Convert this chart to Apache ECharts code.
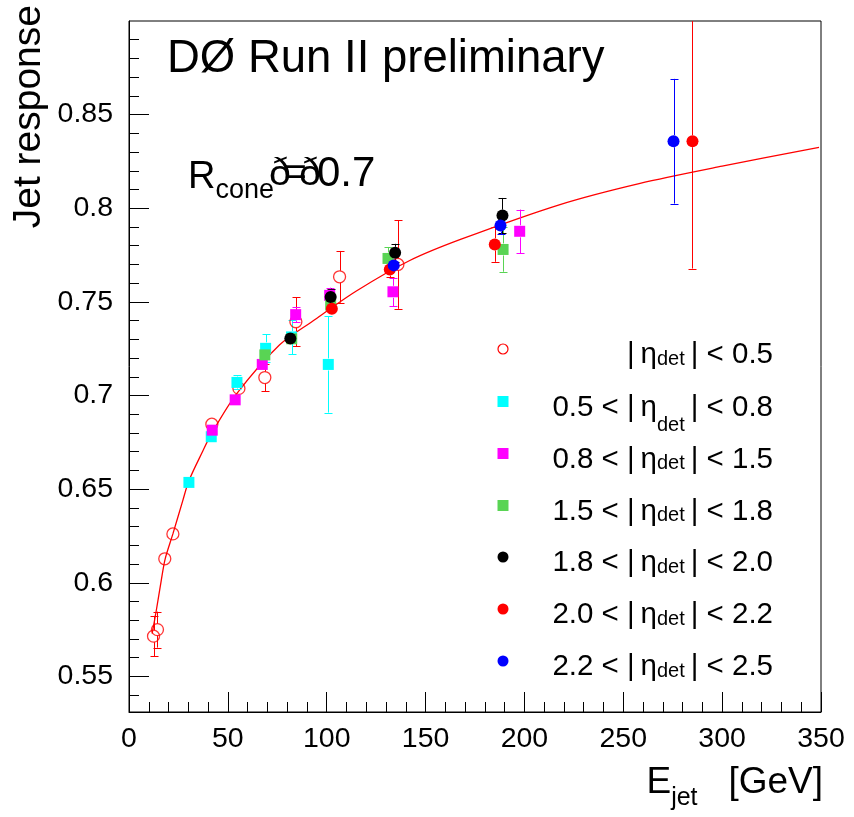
<!DOCTYPE html>
<html><head><meta charset="utf-8">
<script src="https://cdn.jsdelivr.net/npm/echarts@6/dist/echarts.min.js"></script>
<style>html,body{margin:0;padding:0;background:#fff}#c{width:854px;height:817px}</style>
</head><body><div id="c"></div>
<script>
const FONT = "'Liberation Sans', Arial, Helvetica, sans-serif";

// ---- tick labels ----
const xTicks = [0, 50, 100, 150, 200, 250, 300, 350];
const yMajor = [0.55, 0.6, 0.65, 0.7, 0.75, 0.8, 0.85];
const yMinor = [0.54, 0.56, 0.57, 0.58, 0.59, 0.61, 0.62, 0.63, 0.64, 0.66, 0.67, 0.68, 0.69,
  0.71, 0.72, 0.73, 0.74, 0.76, 0.77, 0.78, 0.79, 0.81, 0.82, 0.83, 0.84, 0.86, 0.87, 0.88, 0.89];

// ---- legend labels ----
const binLo = ['', '0.5', '0.8', '1.5', '1.8', '2.0', '2.2'];
const binHi = ['0.5', '0.8', '1.5', '1.8', '2.0', '2.2', '2.5'];

// ---- series: E_jet [GeV], response, error ----
const eta00E = [12.4, 14.4, 18.1, 22.2, 41.9, 55.6, 68.7, 84.4, 106.5, 136.0];
const eta00R = [0.5715, 0.5750, 0.6128, 0.6261, 0.6847, 0.7038, 0.7096, 0.7394, 0.7634, 0.7700];
const eta00Err = [0.0108, 0.0096, 0.002, 0.002, 0.002, 0.003, 0.0072, 0.0130, 0.0138, 0.0237];

const eta05E = [30.3, 41.6, 54.6, 69.1, 82.2, 100.8];
const eta05R = [0.6536, 0.6780, 0.7070, 0.7252, 0.7313, 0.7166];
const eta05Err = [0.002, 0.002, 0.0037, 0.0075, 0.0092, 0.0257];

const eta08E = [42.1, 53.7, 67.4, 84.3, 101.5, 133.5, 197.6];
const eta08R = [0.6815, 0.6977, 0.7166, 0.7432, 0.7535, 0.7554, 0.7877];
const eta08Err = [0.002, 0.002, 0.003, 0.004, 0.0041, 0.0076, 0.0116];

const eta15E = [68.7, 82.3, 102.0, 131.0, 189.2];
const eta15R = [0.7217, 0.7303, 0.7483, 0.7732, 0.7780];
const eta15Err = [0.003, 0.003, 0.003, 0.006, 0.0119];

const eta18E = [81.6, 102.0, 134.6, 188.9];
const eta18R = [0.7304, 0.7526, 0.7762, 0.7961];
const eta18Err = [0.002, 0.0045, 0.0048, 0.0094];

const eta20E = [102.6, 131.9, 185.0, 285.0];
const eta20R = [0.7464, 0.7673, 0.7807, 0.8358];
const eta20Err = [0.003, 0.004, 0.0093, 0.068];

const eta22E = [133.9, 187.9, 275.4];
const eta22R = [0.7695, 0.7908, 0.8358];
const eta22Err = [0.003, 0.0045, 0.0333];

// ---- fit curve ----
const fitE = [11.7, 13.8, 16.3, 18.3, 22.2, 27.2, 30.3, 37.4, 41.6, 54.3, 76.2, 93, 115, 142, 168, 218, 258, 300, 349];
const fitR = [0.5728, 0.5852, 0.6012, 0.6128, 0.6261, 0.6439, 0.6545, 0.6705, 0.6794, 0.7007, 0.7271, 0.7398, 0.7558, 0.7721, 0.7835, 0.8020, 0.8132, 0.8225, 0.8325];

const groups = [
  {E: eta00E, R: eta00R, Err: eta00Err, color: '#ff0000', symbol: 'circle', open: true},
  {E: eta05E, R: eta05R, Err: eta05Err, color: '#00ffff', symbol: 'rect'},
  {E: eta08E, R: eta08R, Err: eta08Err, color: '#ff00ff', symbol: 'rect'},
  {E: eta15E, R: eta15R, Err: eta15Err, color: '#59d454', symbol: 'rect'},
  {E: eta18E, R: eta18R, Err: eta18Err, color: '#000000', symbol: 'circle'},
  {E: eta20E, R: eta20R, Err: eta20Err, color: '#ff0000', symbol: 'circle'},
  {E: eta22E, R: eta22R, Err: eta22Err, color: '#0000ff', symbol: 'circle'}
];

const MS = 12; // marker size
function errRender(color) {
  return function (params, api) {
    const x = api.value(0), y = api.value(1), e = api.value(2);
    const c = api.coord([x, y]);
    const t = api.coord([x, y + e]);
    const b = api.coord([x, y - e]);
    const r = MS / 2;
    const cx = Math.round(c[0]) + 0.5;
    const st = {stroke: color, lineWidth: 1};
    const ch = [];
    const cap = 4;
    if (c[1] - t[1] > r) {
      ch.push({type: 'line', shape: {x1: cx, y1: c[1] - r, x2: cx, y2: t[1]}, style: st});
      ch.push({type: 'line', shape: {x1: cx - cap, y1: Math.round(t[1]) + 0.5, x2: cx + cap, y2: Math.round(t[1]) + 0.5}, style: st});
    }
    if (b[1] - c[1] > r) {
      ch.push({type: 'line', shape: {x1: cx, y1: c[1] + r, x2: cx, y2: b[1]}, style: st});
      ch.push({type: 'line', shape: {x1: cx - cap, y1: Math.round(b[1]) + 0.5, x2: cx + cap, y2: Math.round(b[1]) + 0.5}, style: st});
    }
    return {type: 'group', children: ch};
  };
}

const series = [{
  type: 'line', name: 'fit', data: fitE.map((e, i) => [e, fitR[i]]),
  smooth: 0.3, showSymbol: false, symbol: 'none', silent: true,
  lineStyle: {color: '#ff0000', width: 1.3}, z: 1
}];
groups.forEach((g, gi) => {
  series.push({
    type: 'custom', name: 'err' + gi, clip: true, silent: true,
    renderItem: errRender(g.color),
    data: g.E.map((e, i) => [e, g.R[i], g.Err[i]]), z: 2
  });
  series.push({
    type: 'scatter', name: 'bin' + gi, symbol: g.symbol, symbolSize: g.symbol === 'rect' ? 11 : MS,
    data: g.E.map((e, i) => [e, g.R[i]]), silent: true, z: 2,
    itemStyle: g.open ? {color: 'rgba(0,0,0,0)', borderColor: g.color, borderWidth: 1.3}
                      : {color: g.color, borderWidth: 0, opacity: 1}
  });
});

// legend (custom, ROOT style)
const legendY = [349, 401.5, 453.5, 505.5, 557, 609, 661];
const legendX = 503, legendTextX = 773;
const graphic = [];
groups.forEach((g, i) => {
  const y = legendY[i];
  if (g.symbol === 'rect') {
    graphic.push({type: 'rect', shape: {x: legendX - 5.5, y: y - 5.5, width: 11, height: 11}, style: {fill: g.color}});
  } else if (g.open) {
    graphic.push({type: 'circle', shape: {cx: legendX, cy: y, r: 5}, style: {fill: 'none', stroke: g.color, lineWidth: 1.2}});
  } else {
    graphic.push({type: 'circle', shape: {cx: legendX, cy: y, r: 5.5}, style: {fill: g.color}});
  }
  const txt = (binLo[i] ? '{m|' + binLo[i] + ' < |\u2009η}' : '{m||\u2009η}') + (i === 1 ? '{s2|det}' : '{s|det}') + '{m|\u2009| < ' + binHi[i] + '}';
  graphic.push({
    type: 'text', x: legendTextX, y: y - 9,
    style: {
      text: txt, align: 'right', verticalAlign: 'top',
      rich: {
        m: {fontSize: 29.5, fontFamily: FONT, lineHeight: 30, verticalAlign: 'top', fill: '#000'},
        s: {fontSize: 20, fontFamily: FONT, lineHeight: 30, verticalAlign: 'top', padding: [9, 0, 0, 0], fill: '#000'},
        s2: {fontSize: 20, fontFamily: FONT, lineHeight: 30, verticalAlign: 'top', padding: [23, 0, 0, 0], fill: '#000'}
      }
    }
  });
});

// title texts
graphic.push({type: 'text', x: 167, y: 59, style: {text: 'DØ Run II preliminary', font: '45.5px ' + FONT, fill: '#000', align: 'left', verticalAlign: 'middle'}});
graphic.push({type: 'text', x: 188, y: 159, style: {
  text: '{r|R}{c|cone}', align: 'left', verticalAlign: 'top',
  rich: {r: {fontSize: 38, fontFamily: FONT, lineHeight: 40, verticalAlign: 'top', fill: '#000'},
         c: {fontSize: 27, fontFamily: FONT, lineHeight: 30, verticalAlign: 'top', padding: [18, 0, 0, 0], fill: '#000'}}
}});
graphic.push({type: 'text', x: 269, y: 174, style: {text: 'ð', font: '39px ' + FONT, fill: '#000', verticalAlign: 'middle'}});
graphic.push({type: 'text', x: 284, y: 174, style: {text: '=', font: '39px ' + FONT, fill: '#000', verticalAlign: 'middle'}});
graphic.push({type: 'text', x: 299, y: 174, style: {text: 'ð', font: '39px ' + FONT, fill: '#000', verticalAlign: 'middle'}});
graphic.push({type: 'text', x: 317, y: 174, style: {text: '0.7', font: '42px ' + FONT, fill: '#000', verticalAlign: 'middle'}});

// axis titles
graphic.push({type: 'text', x: 29, y: 5, rotation: Math.PI / 2, style: {text: 'Jet response', font: '39px ' + FONT, fill: '#000', align: 'right', verticalAlign: 'middle'}});
graphic.push({type: 'text', x: 823, y: 764, style: {
  text: '{a|E}{b|jet}{a|   [GeV]}', align: 'right', verticalAlign: 'top',
  rich: {a: {fontSize: 37, fontFamily: FONT, lineHeight: 40, verticalAlign: 'top', fill: '#000'},
         b: {fontSize: 25, fontFamily: FONT, lineHeight: 30, verticalAlign: 'top', padding: [22, 0, 0, 0], fill: '#000'}}
}});

const axisCommon = {
  axisLine: {show: true, lineStyle: {color: '#000', width: 1}},
  splitLine: {show: false}
};
const option = {
  animation: false,
  backgroundColor: '#ffffff',
  grid: {left: 129, right: 33, top: 21, bottom: 105, show: true, borderColor: '#000', borderWidth: 1, backgroundColor: 'transparent', containLabel: false},
  xAxis: Object.assign({
    type: 'value', min: xTicks[0], max: xTicks[xTicks.length - 1], interval: 50,
    axisTick: {inside: true, length: 20, lineStyle: {color: '#000'}},
    minorTick: {show: true, splitNumber: 5, length: 10, lineStyle: {color: '#000'}},
    minorSplitLine: {show: false},
    axisLabel: {color: '#000', fontSize: 28.5, fontFamily: FONT, margin: 13, showMinLabel: true, showMaxLabel: true}
  }, axisCommon),
  yAxis: [
    Object.assign({
      type: 'value', min: 0.531, max: 0.9, position: 'left',
      axisTick: {inside: true, length: 20, lineStyle: {color: '#000'}, customValues: yMajor},
      axisLabel: {color: '#000', fontSize: 28.5, fontFamily: FONT, margin: 16, customValues: yMajor}
    }, axisCommon),
    {
      type: 'value', min: 0.531, max: 0.9, position: 'left', offset: 0,
      axisLine: {show: false}, splitLine: {show: false},
      axisTick: {inside: true, length: 10, lineStyle: {color: '#000'}, customValues: yMinor},
      axisLabel: {show: false}
    }
  ],
  series: series,
  graphic: graphic
};
const chart = echarts.init(document.getElementById('c'), null, {renderer: 'canvas'});
chart.setOption(option);
</script></body></html>
